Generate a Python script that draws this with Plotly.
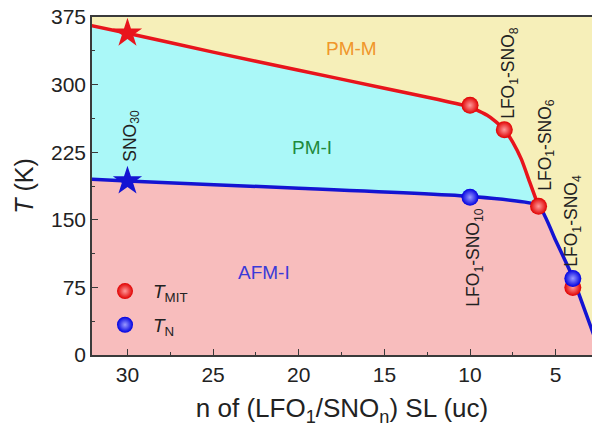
import plotly.graph_objects as go

# Measured transition temperatures (K) versus SNO thickness n (uc)
n_mit = [10, 8, 6, 4]
t_mit = [277, 250, 165, 75]
n_neel = [10, 4]
t_neel = [175, 85]
n_film = [30]
t_mit_film = [357]
t_neel_film = [193]

# Phase boundaries (guides to the eye)
mit_bx = [32.5, 30, 25, 20, 15, 12, 10, 9, 8.5, 8, 7.5, 7, 6.5, 6]
mit_by = [367, 357, 336, 316, 296, 284, 275, 266, 259, 250, 236, 217, 191, 165]
neel_bx = [32.5, 30, 20, 10, 6]
neel_by = [195.5, 193, 185, 176, 166]
drop_bx = [6, 5, 4, 3.5, 2.35]
drop_by = [166, 127, 86, 60, 0]

# Sample labels
lab_text = ["SNO<sub>30</sub>", "LFO<sub>1</sub>-SNO<sub>8</sub>", "LFO<sub>1</sub>-SNO<sub>6</sub>",
            "LFO<sub>1</sub>-SNO<sub>10</sub>", "LFO<sub>1</sub>-SNO<sub>4</sub>"]
lab_x = [29.75, 7.67, 5.52, 9.71, 3.99]
lab_y = [243, 313, 233, 108, 149]

# Phase region names
phase_text = ["PM-M", "PM-I", "AFM-I"]
phase_x = [16.9, 19.25, 22.0]
phase_y = [340, 230, 92]
phase_color = ["#f0962a", "#1f8a3c", "#3a3ad8"]

YELLOW = "#f6efb9"
CYAN = "#aaf8f8"
PINK = "#f8bdbd"
RED = "#e8141c"
BLUE = "#1414d2"
FONT = "Arial, Liberation Sans, sans-serif"

fig = go.Figure()

# AFM-I region (below the Neel boundary)
afm_x = neel_bx + drop_bx[1:] + [neel_bx[0]]
afm_y = neel_by + drop_by[1:] + [0]
fig.add_trace(go.Scatter(x=afm_x, y=afm_y, fill="toself", fillcolor=PINK,
                         mode="lines", line=dict(width=0), showlegend=False, hoverinfo="skip"))
# PM-I region (between MIT and Neel boundaries)
pmi_x = mit_bx + neel_bx[::-1]
pmi_y = mit_by + neel_by[::-1]
fig.add_trace(go.Scatter(x=pmi_x, y=pmi_y, fill="toself", fillcolor=CYAN,
                         mode="lines", line=dict(width=0), showlegend=False, hoverinfo="skip"))

# Boundary lines
fig.add_trace(go.Scatter(x=mit_bx, y=mit_by, mode="lines",
                         line=dict(color=RED, width=3.5, shape="spline", smoothing=0.5),
                         showlegend=False, hoverinfo="skip"))
fig.add_trace(go.Scatter(x=neel_bx + drop_bx[1:], y=neel_by + drop_by[1:], mode="lines",
                         line=dict(color=BLUE, width=3.5, shape="spline", smoothing=0.4),
                         showlegend=False, hoverinfo="skip"))

# SNO30 film (stars)
fig.add_trace(go.Scatter(x=n_film, y=t_mit_film, mode="markers",
                         marker=dict(symbol="star", size=22, color=RED, line=dict(width=0)),
                         showlegend=False))
fig.add_trace(go.Scatter(x=n_film, y=t_neel_film, mode="markers",
                         marker=dict(symbol="star", size=22, color=BLUE, line=dict(width=0)),
                         showlegend=False))

# Superlattices (spheres)
fig.add_trace(go.Scatter(x=n_mit, y=t_mit, mode="markers", name="<i>T</i><sub>MIT</sub>",
                         legendgroup="a",
                         marker=dict(size=17, color="#e00000", line=dict(width=0),
                                     gradient=dict(type="radial", color="#ff9a9a"))))
fig.add_trace(go.Scatter(x=n_neel, y=t_neel, mode="markers", name="<i>T</i><sub>N</sub>",
                         legendgroup="b",
                         marker=dict(size=17, color="#0000e0", line=dict(width=0),
                                     gradient=dict(type="radial", color="#9a9aff"))))

for t, x, y in zip(lab_text, lab_x, lab_y):
    fig.add_annotation(x=x, y=y, text=t, textangle=-90, showarrow=False,
                       font=dict(size=17.5, color="#222222", family=FONT))
for t, x, y, c in zip(phase_text, phase_x, phase_y, phase_color):
    fig.add_annotation(x=x, y=y, text=t, showarrow=False,
                       font=dict(size=19, color=c, family=FONT))

axis_common = dict(showline=True, linecolor="#3a3a3a", linewidth=1.5, ticks="inside",
                   tickcolor="#3a3a3a", ticklen=6, tickwidth=1.2, showgrid=False,
                   zeroline=False, tickfont=dict(size=21, color="#222222", family=FONT))

fig.update_xaxes(range=[32.07, 2.88], tick0=0, dtick=5, mirror=True,
                 minor=dict(dtick=2.5, ticks="inside", ticklen=3.5, tickcolor="#3a3a3a"),
                 title=dict(text="n of (LFO<sub>1</sub>/SNO<sub>n</sub>) SL (uc)",
                            font=dict(size=26, color="#222222", family=FONT), standoff=14),
                 **axis_common)
fig.update_yaxes(range=[0, 375], tick0=0, dtick=75, mirror=False,
                 minor=dict(dtick=37.5, ticks="inside", ticklen=3.5, tickcolor="#3a3a3a"),
                 title=dict(text="<i>T</i> (K)", font=dict(size=25, color="#222222", family=FONT),
                            standoff=10),
                 **axis_common)

fig.update_layout(
    width=592, height=431,
    margin=dict(l=92, r=0, t=17, b=76),
    paper_bgcolor="white", plot_bgcolor=YELLOW,
    font=dict(family=FONT),
    showlegend=True,
    legend=dict(x=0.01, y=0.245, xanchor="left", yanchor="top", bgcolor="rgba(0,0,0,0)",
                font=dict(size=19, color="#222222", family=FONT), tracegroupgap=6,
                itemwidth=46),
)

fig.write_html("out.html")
